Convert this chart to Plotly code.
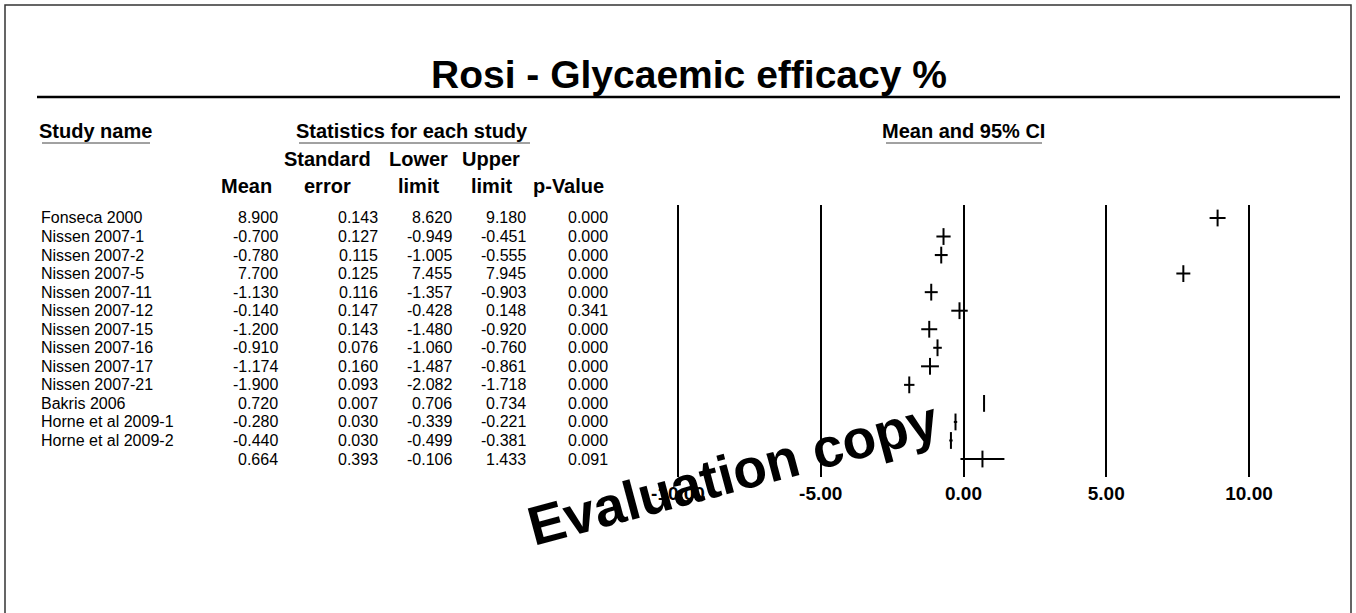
import plotly.graph_objects as go

# ---------------- data ----------------
study_names = ["Fonseca 2000", "Nissen 2007-1", "Nissen 2007-2", "Nissen 2007-5",
               "Nissen 2007-11", "Nissen 2007-12", "Nissen 2007-15", "Nissen 2007-16",
               "Nissen 2007-17", "Nissen 2007-21", "Bakris 2006", "Horne et al 2009-1",
               "Horne et al 2009-2", ""]
means = [8.900, -0.700, -0.780, 7.700, -1.130, -0.140, -1.200, -0.910,
         -1.174, -1.900, 0.720, -0.280, -0.440, 0.664]
std_errors = [0.143, 0.127, 0.115, 0.125, 0.116, 0.147, 0.143, 0.076,
              0.160, 0.093, 0.007, 0.030, 0.030, 0.393]
lower_limits = [8.620, -0.949, -1.005, 7.455, -1.357, -0.428, -1.480, -1.060,
                -1.487, -2.082, 0.706, -0.339, -0.499, -0.106]
upper_limits = [9.180, -0.451, -0.555, 7.945, -0.903, 0.148, -0.920, -0.760,
                -0.861, -1.718, 0.734, -0.221, -0.381, 1.433]
p_values = [0.000, 0.000, 0.000, 0.000, 0.000, 0.341, 0.000, 0.000,
            0.000, 0.000, 0.000, 0.000, 0.000, 0.091]
tick_values = [-10, -5, 0, 5, 10]
tick_labels = ["-10.00", "-5.00", "0.00", "5.00", "10.00"]

# ---------------- layout helpers ----------------
W, H = 1356, 613
FONT = "Arial, Liberation Sans, sans-serif"


def px(x):
    return x / W


def py(y):
    return 1 - y / H


rows = list(range(len(means)))
row_top_px, row_step = 218.0, 18.54
grid_top, grid_bot = 205.0, 477.0
r_top = (grid_top - row_top_px) / row_step
r_bot = (grid_bot - row_top_px) / row_step

zero_px, unit_px = 963.5, 28.55
x_lo, x_hi = -10.5, 10.5

fig = go.Figure()

fig.add_trace(go.Scatter(
    x=means, y=rows, mode="markers",
    marker=dict(symbol="line-ns", size=12, line=dict(color="black", width=2)),
    error_x=dict(type="data", symmetric=False,
                 array=[u - m for u, m in zip(upper_limits, means)],
                 arrayminus=[m - l for m, l in zip(means, lower_limits)],
                 color="black", thickness=2, width=0),
    showlegend=False, hoverinfo="skip", cliponaxis=False,
))

annotations = []
annotations.append(dict(text="<b>Rosi - Glycaemic efficacy %</b>", x=px(689), y=py(75),
                        xref="paper", yref="paper", showarrow=False,
                        font=dict(family=FONT, size=39, color="black"),
                        xanchor="center", yanchor="middle"))
hdr_font = dict(family=FONT, size=20, color="black")
for txt, x, anchor in [("Study name", 37, "left"),
                       ("Statistics for each study", 412, "center"),
                       ("Mean and 95% CI", 963, "center")]:
    annotations.append(dict(text=f"<b>{txt}</b>", x=px(x), y=py(131), xref="paper", yref="paper",
                            showarrow=False, font=hdr_font, xanchor=anchor, yanchor="middle"))
for lines, x in [(["", "Mean"], 246), (["Standard", "error"], 327), (["Lower", "limit"], 418),
                 (["Upper", "limit"], 491), (["", "p-Value"], 568)]:
    for i, t in enumerate(lines):
        if t:
            annotations.append(dict(text=f"<b>{t}</b>", x=px(x), y=py(159 + 27 * i),
                                    xref="paper", yref="paper", showarrow=False, font=hdr_font,
                                    xanchor="center", yanchor="middle"))
body_font = dict(family=FONT, size=16, color="black")
cols = [(means, 280), (std_errors, 380), (lower_limits, 454), (upper_limits, 528), (p_values, 610)]
for r in rows:
    if study_names[r]:
        annotations.append(dict(text=study_names[r], x=px(39), y=r, xref="paper", yref="y",
                                showarrow=False, font=body_font, xanchor="left", yanchor="middle"))
    for vals, xr in cols:
        annotations.append(dict(text=f"{vals[r]:.3f}", x=px(xr), y=r, xref="paper", yref="y",
                                showarrow=False, font=body_font, xanchor="right", yanchor="middle"))
annotations.append(dict(text="<b>Evaluation copy</b>", x=px(733), y=py(473), xref="paper", yref="paper",
                        showarrow=False, textangle=-15,
                        font=dict(family=FONT, size=55, color="black"),
                        xanchor="center", yanchor="middle"))

shapes = [
    dict(type="rect", xref="paper", yref="paper", x0=px(5), x1=px(1351), y0=-0.05, y1=py(5),
         line=dict(color="#333333", width=1.5)),
    dict(type="line", xref="paper", yref="paper", x0=px(37), x1=px(1340), y0=py(97), y1=py(97),
         line=dict(color="black", width=2.5)),
    dict(type="line", xref="paper", yref="paper", x0=px(42), x1=px(150), y0=py(143), y1=py(143),
         line=dict(color="#444444", width=1)),
    dict(type="line", xref="paper", yref="paper", x0=px(299), x1=px(530), y0=py(143), y1=py(143),
         line=dict(color="#444444", width=1)),
    dict(type="line", xref="paper", yref="paper", x0=px(886), x1=px(1042), y0=py(143), y1=py(143),
         line=dict(color="#444444", width=1)),
]

fig.update_layout(
    width=W, height=H, margin=dict(l=0, r=0, t=0, b=0, autoexpand=False),
    paper_bgcolor="white", plot_bgcolor="white",
    annotations=annotations, shapes=shapes, showlegend=False,
    xaxis=dict(domain=[px(zero_px + x_lo * unit_px), px(zero_px + x_hi * unit_px)],
               range=[x_lo, x_hi], tickvals=tick_values, ticktext=tick_labels,
               showgrid=True, gridcolor="black", gridwidth=2, zeroline=False,
               showline=False, ticks="", ticklabelstandoff=3, automargin=False,
               tickfont=dict(family=FONT, size=19, color="black", weight="bold")),
    yaxis=dict(domain=[py(grid_bot), py(grid_top)], range=[r_bot, r_top], automargin=False,
               showgrid=False, zeroline=False, showticklabels=False, showline=False, ticks=""),
)

fig.write_html(
    "out.html",
    config={"displayModeBar": False},
    post_script="document.body.style.margin='0';document.body.style.overflow='hidden';",
)
